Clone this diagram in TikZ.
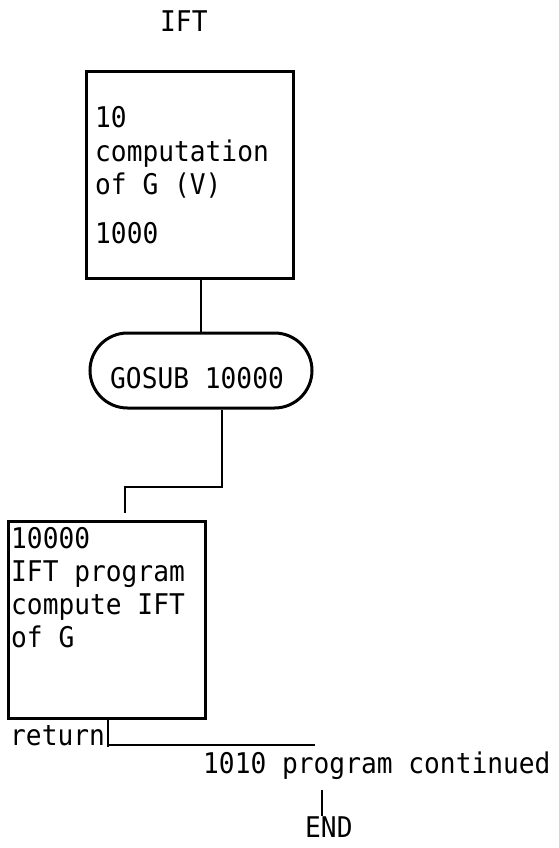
\documentclass[tikz,border=0pt]{standalone}
\usepackage{fontspec}
\newfontfamily\tw[FakeStretch=0.92]{DejaVu Sans Mono}
\usetikzlibrary{shapes.misc}
\begin{document}
\begin{tikzpicture}[x=1pt,y=-1pt,
  txt/.style={font=\tw\fontsize{28.5}{34}\selectfont, inner sep=0pt, anchor=base west},
  procbox/.style={draw, line width=3pt, rectangle, inner sep=0pt, anchor=north west},
  capsule/.style={draw, line width=3pt, rounded rectangle, inner sep=0pt},
  conn/.style={draw, line width=2.6pt}]
\useasboundingbox (0,0) rectangle (558,848);

\node[txt] (title) at (160,32) {IFT};

% top box
\node[procbox, minimum width=207pt, minimum height=207pt] (top) at (85,70) {};
\node[txt] (t1) at (95,128) {10};
\node[txt] (t2) at (95,161) {computation};
\node[txt] (t3) at (95,194) {of G (V)};
\node[txt] (t4) at (95,243) {1000};

% capsule
\node[capsule, minimum width=222pt, minimum height=75pt] (cap) at (201,370.5) {};
\node[txt] (gosub) at (110,388) {GOSUB 10000};

% bottom box
\node[procbox, minimum width=197pt, minimum height=197pt] (sub) at (7,520) {};
\node[txt] (s1) at (11,548) {10000};
\node[txt] (s2) at (11,581) {IFT program};
\node[txt] (s3) at (11,614) {compute IFT};
\node[txt] (s4) at (11,647) {of G};

\node[txt] (ret) at (10,745) {return};
\node[txt] (cont) at (203,773) {1010 program continued};
\node[txt] (endn) at (305,837) {END};

% connectors
\draw[conn] (cap.north |- top.south) -- (cap.north);
\coordinate (b1) at (125,487);
\draw[conn] ([xshift=21pt]cap.south) |- (b1) -- ([yshift=7pt]b1 |- sub.north);
\coordinate (r1) at (108,747);
\coordinate (r2) at (315,745);
\draw[conn] (sub.south -| r1) -- (r1);
\draw[conn] (r1 |- r2) -- (r2);
\coordinate (e1) at (322,790);
\draw[conn] (e1) -- (e1 |- endn.north);
\end{tikzpicture}
\end{document}
